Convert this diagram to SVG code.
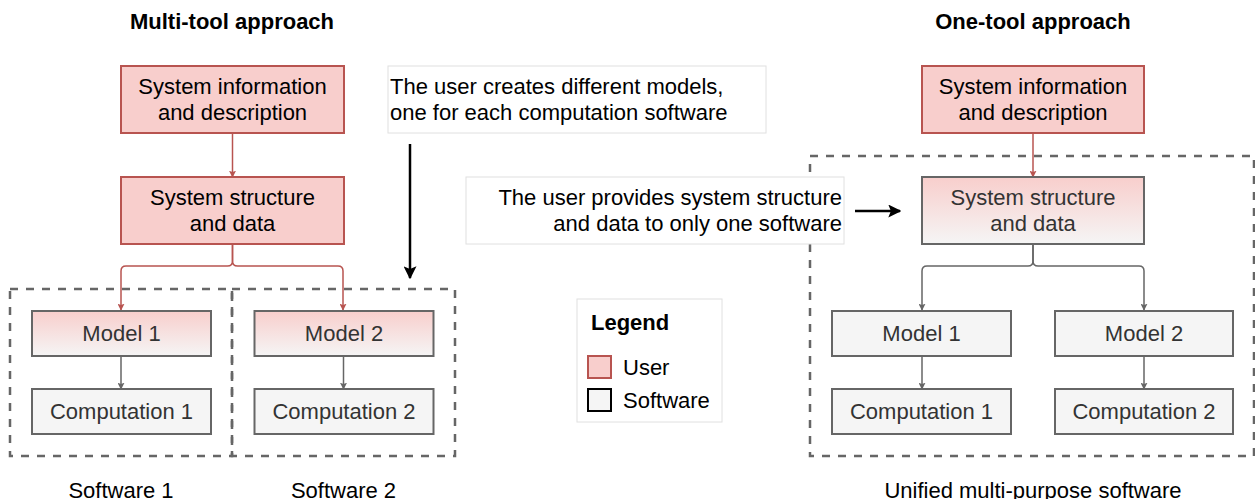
<svg xmlns="http://www.w3.org/2000/svg" width="1255" height="499" viewBox="0 0 1255 499">
<defs>
<linearGradient id="grad" x1="0" y1="0" x2="0" y2="1">
<stop offset="0" stop-color="#f8cecc"/>
<stop offset="1" stop-color="#f5f5f5"/>
</linearGradient>
<marker id="arRed" viewBox="0 0 10 10" refX="9" refY="5" markerWidth="7" markerHeight="7" markerUnits="userSpaceOnUse" orient="auto">
<path d="M0,0 L10,5 L0,10 L2,5 z" fill="#b85450"/>
</marker>
<marker id="arGray" viewBox="0 0 10 10" refX="9" refY="5" markerWidth="7" markerHeight="7" markerUnits="userSpaceOnUse" orient="auto">
<path d="M0,0 L10,5 L0,10 L2,5 z" fill="#666666"/>
</marker>
<marker id="arBlack" viewBox="0 0 10 10" refX="9" refY="5" markerWidth="13" markerHeight="13" markerUnits="userSpaceOnUse" orient="auto">
<path d="M0,0 L10,5 L0,10 L2,5 z" fill="#000000"/>
</marker>
</defs>
<style>
text { font-family: "Liberation Sans", Arial, sans-serif; font-size: 22px; }
.title { font-weight: bold; text-anchor: middle; fill: #000; }
.c { text-anchor: middle; }
.user { fill: #f8cecc; stroke: #b85450; stroke-width: 2; }
.mixed { fill: url(#grad); stroke: #666666; stroke-width: 2; }
.soft { fill: #f5f5f5; stroke: #666666; stroke-width: 2; }
.note { fill: #ffffff; stroke: #e0e0e0; stroke-width: 1; }
.dash { fill: none; stroke: #666666; stroke-width: 2.5; stroke-dasharray: 8 8; }
.dark { fill: #000; }
.grey { fill: #333333; }
.redl { fill: none; stroke: #b85450; stroke-width: 1.5; marker-end: url(#arRed); }
.grayl { fill: none; stroke: #666666; stroke-width: 1.5; marker-end: url(#arGray); }
.blackl { fill: none; stroke: #000; stroke-width: 2.5; marker-end: url(#arBlack); }
</style>
<rect width="1255" height="499" fill="#ffffff"/>

<text class="title" x="232" y="29">Multi-tool approach</text>
<text class="title" x="1033" y="29">One-tool approach</text>

<g id="containers">
<rect id="software1" class="dash" x="10" y="289" width="222" height="167"/>
<rect id="software2" class="dash" x="232" y="289" width="223" height="167"/>
<rect id="unified" class="dash" x="810" y="156" width="444" height="300"/>
</g>

<g id="connectors">
<path class="redl" d="M232.5 133 V177"/>
<path class="redl" d="M232.5 244 V261 Q232.5 266 227.5 266 H126 Q121 266 121 271 V310"/>
<path class="redl" d="M232.5 244 V261 Q232.5 266 237.5 266 H338 Q343 266 343 271 V310"/>
<path class="grayl" d="M121 356 V389"/>
<path class="grayl" d="M343.5 356 V389"/>
<path class="redl" d="M1033 133 V177"/>
<path class="grayl" d="M1033 244 V261 Q1033 266 1028 266 H927 Q922 266 922 271 V310"/>
<path class="grayl" d="M1033 244 V261 Q1033 266 1038 266 H1139 Q1144 266 1144 271 V310"/>
<path class="grayl" d="M922 356 V389"/>
<path class="grayl" d="M1144 356 V389"/>
<path class="blackl" d="M410 144 V278"/>
<path class="blackl" d="M855 211 H900"/>
</g>

<g id="l-sysinfo">
<rect class="user" x="121" y="66" width="223" height="67"/>
<text class="c dark" x="232.5" y="94">System information</text>
<text class="c dark" x="232.5" y="120">and description</text>
</g>
<g id="l-sysstruct">
<rect class="user" x="121" y="177" width="223" height="67"/>
<text class="c dark" x="232.5" y="205">System structure</text>
<text class="c dark" x="232.5" y="231">and data</text>
</g>
<g id="l-model1">
<rect class="mixed" x="32" y="311" width="179" height="45"/>
<text class="c grey" x="121.5" y="341">Model 1</text>
</g>
<g id="l-model2">
<rect class="mixed" x="254.5" y="311" width="179" height="45"/>
<text class="c grey" x="344" y="341">Model 2</text>
</g>
<g id="l-comp1">
<rect class="soft" x="32" y="389" width="179" height="45"/>
<text class="c grey" x="121.5" y="419">Computation 1</text>
</g>
<g id="l-comp2">
<rect class="soft" x="254.5" y="389" width="179" height="45"/>
<text class="c grey" x="344" y="419">Computation 2</text>
</g>
<text class="c dark" x="121" y="498">Software 1</text>
<text class="c dark" x="343.5" y="498">Software 2</text>

<g id="note1">
<rect class="note" x="388" y="66" width="378" height="67"/>
<text class="dark" x="390" y="94">The user creates different models,</text>
<text class="dark" x="390" y="120">one for each computation software</text>
</g>
<g id="note2">
<rect class="note" x="466" y="177" width="378" height="67"/>
<text class="dark" x="842" y="205" text-anchor="end">The user provides system structure</text>
<text class="dark" x="842" y="231" text-anchor="end">and data to only one software</text>
</g>

<g id="legend">
<rect class="note" x="577" y="299" width="145" height="123"/>
<text class="dark" x="591" y="330" font-weight="bold" font-size="21">Legend</text>
<rect class="user" x="588" y="356" width="23" height="22"/>
<text class="dark" x="623" y="375">User</text>
<rect fill="#f5f5f5" stroke="#000" stroke-width="2" x="588" y="389" width="23" height="22"/>
<text class="dark" x="623" y="408">Software</text>
</g>

<g id="r-sysinfo">
<rect class="user" x="922" y="66" width="222" height="67"/>
<text class="c dark" x="1033" y="94">System information</text>
<text class="c dark" x="1033" y="120">and description</text>
</g>
<g id="r-sysstruct">
<rect class="mixed" x="922" y="177" width="222" height="67"/>
<text class="c grey" x="1033" y="205">System structure</text>
<text class="c grey" x="1033" y="231">and data</text>
</g>
<g id="r-model1">
<rect class="soft" x="832" y="311" width="179" height="45"/>
<text class="c grey" x="921.5" y="341">Model 1</text>
</g>
<g id="r-model2">
<rect class="soft" x="1055" y="311" width="178" height="45"/>
<text class="c grey" x="1144" y="341">Model 2</text>
</g>
<g id="r-comp1">
<rect class="soft" x="832" y="389" width="179" height="45"/>
<text class="c grey" x="921.5" y="419">Computation 1</text>
</g>
<g id="r-comp2">
<rect class="soft" x="1055" y="389" width="178" height="45"/>
<text class="c grey" x="1144" y="419">Computation 2</text>
</g>
<text class="c dark" x="1033" y="498">Unified multi-purpose software</text>
</svg>
